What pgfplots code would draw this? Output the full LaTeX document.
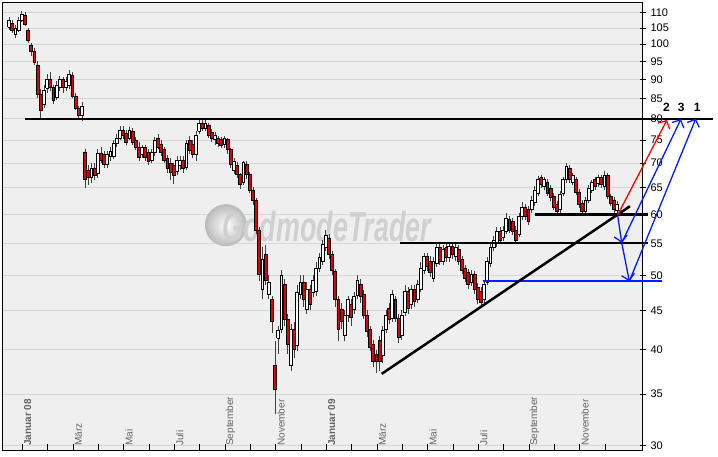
\documentclass[border=0pt]{standalone}
\usepackage{fontspec}
\setmainfont{Liberation Sans}
\usepackage{pgfplots}
\pgfplotsset{compat=1.18}
\usetikzlibrary{arrows.meta}

\definecolor{plotbg}{RGB}{239,239,239}
\definecolor{gridc}{RGB}{214,214,214}
\definecolor{candlered}{RGB}{225,0,0}
\definecolor{lblgray}{RGB}{100,100,100}
\definecolor{arrowblue}{RGB}{0,30,255}
\definecolor{arrowred}{RGB}{255,0,0}
\definecolor{wmark}{RGB}{208,208,208}

\pgfplotsset{
  wick/.style={draw=black!75, line width=0.6pt},
  body/.style={draw=black, line width=0.55pt, line join=miter},
}

% \candle{index}{open}{high}{low}{close}, one candle every 1/8 month
\newcommand\candle[5]{%
  \ifdim#5pt<#2pt \def\fc{candlered}\else\def\fc{white}\fi
  \pgfmathsetmacro\xa{#1-0.44}\pgfmathsetmacro\xb{#1+0.44}%
  \edef\doit{\noexpand\addplot[wick] coordinates {(#1,#4) (#1,#3)};%
    \noexpand\addplot[body, fill=\fc] coordinates {(\xa,#2) (\xb,#2) (\xb,#5) (\xa,#5) (\xa,#2)};}%
  \doit
}

\begin{document}
\begin{tikzpicture}
\useasboundingbox (-2pt,-7pt) rectangle (716pt,450pt);
\begin{axis}[
  scale only axis, width=640pt, height=448pt,
  xmin=-2.2, xmax=199.9,
  ymode=log, ymin=29.6, ymax=113.5,
  clip=false,
  axis background/.style={fill=plotbg},
  axis line style={black, line width=0.9pt},
  ytick={30,35,40,45,50,55,60,65,70,75,80,85,90,95,100,105,110},
  yticklabels={30,35,40,45,50,55,60,65,70,75,80,85,90,95,100,105,110},
  ytick pos=right, yticklabel pos=right,
  ymajorgrids, major grid style={gridc, line width=0.8pt},
  xtick={4.2,12.2,...,188.2},
  xticklabels={\textbf{Januar 08},,März,,Mai,,Juli,,September,,November,,\textbf{Januar 09},,März,,Mai,,Juli,,September,,November,},
  xtick pos=left,
  tick align=center, major tick length=6pt,
  ytick style={black, line width=0.8pt, xshift=1pt},
  xtick style={black, line width=0.8pt, yshift=3pt},
  yticklabel style={font=\fontsize{11}{12}\selectfont, text=black, xshift=2pt},
  xticklabel style={font=\fontsize{10}{12}\selectfont, text=lblgray, xshift=5.5pt, yshift=6pt, rotate=90, anchor=west, inner sep=1pt},
]
% watermark
\shade[inner color=white, outer color=gray!55] (axis cs:68.5,58.1) circle[radius=21pt];
\node[font=\fontsize{42}{42}\selectfont\bfseries\itshape, text=wmark, xscale=0.64] at (axis cs:100.4,57.8) {GodmodeTrader};

% candles: index, open, high, low, close
\candle{0}{105.3}{108.5}{104.5}{107.6}
\candle{1}{106.5}{107.5}{103.5}{104.4}
\candle{2}{102.9}{105.8}{102.0}{105.0}
\candle{3}{104.4}{108.5}{103.8}{107.6}
\candle{4}{107.6}{110.6}{107.0}{109.5}
\candle{5}{109.0}{110.0}{105.5}{106.0}
\candle{6}{104.4}{105.0}{100.5}{101.3}
\candle{7}{99.8}{100.5}{96.5}{97.8}
\candle{8}{97.8}{99.0}{94.0}{94.8}
\candle{9}{94.0}{95.0}{85.0}{86.0}
\candle{10}{86.0}{87.5}{80.0}{82.0}
\candle{11}{83.6}{88.5}{82.5}{87.2}
\candle{12}{87.7}{91.5}{86.5}{90.1}
\candle{13}{90.1}{92.0}{87.0}{87.8}
\candle{14}{87.8}{88.5}{83.5}{84.6}
\candle{15}{85.2}{89.5}{84.5}{88.5}
\candle{16}{88.0}{91.0}{87.0}{90.0}
\candle{17}{89.9}{90.5}{86.5}{87.9}
\candle{18}{87.9}{90.5}{87.0}{89.4}
\candle{19}{88.5}{92.5}{87.5}{91.5}
\candle{20}{91.2}{92.0}{85.0}{85.5}
\candle{21}{85.5}{86.5}{82.0}{82.6}
\candle{22}{82.6}{83.0}{80.0}{80.9}
\candle{23}{80.7}{84.0}{79.5}{83.1}
\candle{24}{72.4}{73.0}{65.0}{66.7}
\candle{25}{68.6}{69.5}{65.5}{67.0}
\candle{26}{67.0}{70.0}{66.0}{69.0}
\candle{27}{69.0}{70.0}{66.5}{67.4}
\candle{28}{67.8}{73.0}{67.0}{72.2}
\candle{29}{72.2}{73.5}{70.0}{70.7}
\candle{30}{71.8}{72.5}{69.0}{69.7}
\candle{31}{69.7}{72.5}{69.0}{71.8}
\candle{32}{71.4}{73.5}{70.5}{72.5}
\candle{33}{71.4}{75.0}{70.8}{74.2}
\candle{34}{74.2}{76.5}{73.5}{75.5}
\candle{35}{75.5}{78.3}{75.0}{77.2}
\candle{36}{77.2}{78.3}{75.2}{76.0}
\candle{37}{76.6}{77.3}{74.0}{74.6}
\candle{38}{75.5}{78.0}{75.0}{77.2}
\candle{39}{77.1}{77.8}{74.0}{74.6}
\candle{40}{75.0}{75.8}{72.8}{73.3}
\candle{41}{73.5}{74.5}{70.5}{71.2}
\candle{42}{71.8}{74.0}{71.0}{73.3}
\candle{43}{73.3}{74.0}{70.5}{71.2}
\candle{44}{72.3}{73.0}{69.5}{70.3}
\candle{45}{70.7}{73.0}{70.0}{72.3}
\candle{46}{72.3}{75.8}{71.5}{75.0}
\candle{47}{75.5}{76.5}{73.0}{73.5}
\candle{48}{74.0}{75.0}{71.5}{72.4}
\candle{49}{72.9}{73.5}{70.0}{70.7}
\candle{50}{71.0}{71.8}{68.0}{69.0}
\candle{51}{70.0}{71.0}{66.5}{68.0}
\candle{52}{69.6}{70.0}{65.8}{67.4}
\candle{53}{68.2}{71.5}{67.5}{70.7}
\candle{54}{69.6}{71.6}{68.5}{70.7}
\candle{55}{70.7}{71.5}{68.0}{69.0}
\candle{56}{69.2}{75.0}{68.5}{74.2}
\candle{57}{75.0}{76.0}{72.0}{72.8}
\candle{58}{74.0}{75.0}{71.0}{71.8}
\candle{59}{71.8}{77.0}{70.5}{76.2}
\candle{60}{77.0}{80.2}{76.5}{78.9}
\candle{61}{79.0}{80.0}{77.0}{77.8}
\candle{62}{77.8}{79.8}{77.0}{79.0}
\candle{63}{78.5}{79.0}{75.5}{76.2}
\candle{64}{76.8}{77.5}{74.5}{75.5}
\candle{65}{75.1}{76.8}{74.0}{76.2}
\candle{66}{75.5}{76.0}{73.5}{74.4}
\candle{67}{75.1}{75.8}{73.2}{73.8}
\candle{68}{74.0}{76.0}{73.2}{75.5}
\candle{69}{75.1}{75.5}{72.0}{72.9}
\candle{70}{72.9}{73.3}{69.0}{69.7}
\candle{71}{68.6}{71.0}{67.8}{70.3}
\candle{72}{69.6}{70.3}{67.0}{67.6}
\candle{73}{67.6}{68.0}{64.8}{65.6}
\candle{74}{66.0}{70.5}{65.5}{70.1}
\candle{75}{69.7}{70.5}{66.8}{67.6}
\candle{76}{67.6}{68.2}{64.0}{64.6}
\candle{77}{64.6}{65.2}{61.8}{62.7}
\candle{78}{62.7}{63.0}{56.5}{57.3}
\candle{79}{57.3}{57.8}{49.2}{50.1}
\candle{80}{47.9}{54.5}{46.5}{52.4}
\candle{81}{53.2}{54.8}{48.6}{49.3}
\candle{82}{47.2}{50.0}{46.5}{49.0}
\candle{83}{46.5}{47.0}{42.0}{43.6}
\candle{84}{38.2}{41.0}{33.0}{35.5}
\candle{85}{41.4}{43.0}{39.5}{42.4}
\candle{86}{42.5}{50.8}{42.0}{50.0}
\candle{87}{48.6}{49.5}{43.0}{43.8}
\candle{88}{43.8}{44.5}{39.5}{40.6}
\candle{89}{38.2}{43.2}{37.5}{42.5}
\candle{90}{42.5}{43.5}{39.0}{40.0}
\candle{91}{40.5}{48.5}{39.8}{47.5}
\candle{92}{47.2}{50.0}{46.5}{48.9}
\candle{93}{48.9}{50.0}{45.5}{46.5}
\candle{94}{45.1}{49.0}{44.5}{47.9}
\candle{95}{47.9}{48.5}{45.0}{45.8}
\candle{96}{47.5}{50.0}{46.8}{49.3}
\candle{97}{47.7}{52.0}{47.0}{51.1}
\candle{98}{51.1}{53.5}{50.5}{52.7}
\candle{99}{52.1}{55.5}{51.5}{54.8}
\candle{100}{54.3}{57.3}{53.8}{56.3}
\candle{101}{55.9}{56.5}{52.5}{53.2}
\candle{102}{53.2}{53.8}{50.0}{50.8}
\candle{103}{50.6}{51.0}{45.5}{46.5}
\candle{104}{46.5}{47.0}{41.0}{42.5}
\candle{105}{45.1}{46.0}{42.5}{43.6}
\candle{106}{41.8}{45.0}{41.0}{44.4}
\candle{107}{44.4}{47.0}{43.5}{46.5}
\candle{108}{45.8}{46.5}{43.0}{44.1}
\candle{109}{45.1}{47.5}{44.5}{46.9}
\candle{110}{47.1}{50.0}{46.5}{49.3}
\candle{111}{48.6}{49.5}{46.0}{46.9}
\candle{112}{47.2}{47.8}{43.8}{44.4}
\candle{113}{44.4}{45.0}{41.5}{42.3}
\candle{114}{42.5}{43.0}{39.8}{40.3}
\candle{115}{40.6}{41.2}{38.0}{38.6}
\candle{116}{39.4}{40.0}{37.3}{38.6}
\candle{117}{41.1}{41.7}{37.5}{38.6}
\candle{118}{39.3}{43.0}{38.4}{42.4}
\candle{119}{42.5}{45.0}{42.0}{44.4}
\candle{120}{45.3}{46.0}{43.2}{43.8}
\candle{121}{44.0}{47.8}{43.5}{47.2}
\candle{122}{46.5}{47.0}{43.5}{44.0}
\candle{123}{44.0}{44.5}{40.8}{41.5}
\candle{124}{41.8}{45.0}{41.2}{44.4}
\candle{125}{44.8}{48.5}{44.2}{47.6}
\candle{126}{47.6}{48.2}{44.5}{45.3}
\candle{127}{45.8}{48.5}{45.2}{47.9}
\candle{128}{47.9}{48.5}{45.5}{46.2}
\candle{129}{46.5}{49.3}{46.0}{48.6}
\candle{130}{47.9}{52.0}{47.5}{51.1}
\candle{131}{50.8}{53.5}{50.2}{52.9}
\candle{132}{52.9}{53.5}{50.6}{51.3}
\candle{133}{52.1}{53.0}{49.8}{50.4}
\candle{134}{49.6}{52.8}{49.0}{52.1}
\candle{135}{51.9}{55.0}{51.3}{54.3}
\candle{136}{54.3}{55.0}{51.5}{52.1}
\candle{137}{52.1}{54.8}{51.5}{54.0}
\candle{138}{54.3}{55.2}{52.0}{52.7}
\candle{139}{52.7}{55.3}{52.0}{54.5}
\candle{140}{54.5}{55.3}{52.5}{53.2}
\candle{141}{53.0}{55.0}{52.2}{54.3}
\candle{142}{54.0}{54.8}{51.5}{52.1}
\candle{143}{52.4}{53.0}{50.2}{50.8}
\candle{144}{51.1}{51.6}{49.0}{49.6}
\candle{145}{50.5}{51.0}{48.0}{48.6}
\candle{146}{49.0}{50.8}{48.4}{50.1}
\candle{147}{50.1}{50.6}{47.3}{47.9}
\candle{148}{48.2}{48.8}{45.8}{46.5}
\candle{149}{47.7}{48.2}{45.5}{46.1}
\candle{150}{46.5}{49.2}{46.0}{48.6}
\candle{151}{49.0}{52.8}{48.5}{52.1}
\candle{152}{51.9}{55.0}{51.3}{54.3}
\candle{153}{54.3}{56.3}{53.8}{55.6}
\candle{154}{55.1}{57.8}{54.5}{57.0}
\candle{155}{57.0}{57.8}{55.0}{55.6}
\candle{156}{56.0}{58.0}{55.4}{57.3}
\candle{157}{57.0}{60.2}{56.5}{59.4}
\candle{158}{59.1}{59.8}{56.8}{57.3}
\candle{159}{58.7}{59.3}{56.4}{57.0}
\candle{160}{57.3}{58.0}{55.0}{55.6}
\candle{161}{56.5}{60.3}{56.0}{59.6}
\candle{162}{59.6}{62.2}{59.0}{61.4}
\candle{163}{61.4}{62.0}{59.0}{59.6}
\candle{164}{60.9}{61.5}{58.2}{58.7}
\candle{165}{60.9}{63.5}{60.3}{62.7}
\candle{166}{62.2}{65.3}{61.6}{64.6}
\candle{167}{64.0}{67.3}{63.5}{66.6}
\candle{168}{67.0}{67.6}{65.0}{65.6}
\candle{169}{65.2}{67.2}{64.6}{66.6}
\candle{170}{66.0}{66.8}{63.5}{64.0}
\candle{171}{65.0}{65.6}{62.5}{63.1}
\candle{172}{63.3}{64.0}{60.8}{61.4}
\candle{173}{61.8}{62.4}{59.8}{60.5}
\candle{174}{60.9}{64.3}{60.3}{63.7}
\candle{175}{64.0}{67.2}{63.5}{66.6}
\candle{176}{66.6}{70.0}{66.0}{69.4}
\candle{177}{69.0}{69.6}{66.0}{66.6}
\candle{178}{66.0}{68.0}{65.5}{67.4}
\candle{179}{66.6}{67.2}{63.6}{64.2}
\candle{180}{64.2}{64.8}{61.2}{61.8}
\candle{181}{62.1}{62.6}{59.9}{60.5}
\candle{182}{60.5}{63.3}{60.0}{62.7}
\candle{183}{62.7}{65.6}{62.1}{65.0}
\candle{184}{64.6}{66.6}{64.0}{66.0}
\candle{185}{66.6}{67.2}{64.6}{65.2}
\candle{186}{65.8}{67.6}{65.2}{67.0}
\candle{187}{67.0}{67.6}{65.0}{65.6}
\candle{188}{65.2}{68.4}{64.6}{67.4}
\candle{189}{67.4}{68.0}{62.8}{63.3}
\candle{190}{63.3}{63.8}{61.5}{62.1}
\candle{191}{62.7}{63.2}{60.2}{60.9}
\candle{192}{60.7}{62.4}{60.2}{61.9}

% support / resistance lines
\addplot[black, line width=2pt] coordinates {(5.05,80) (222.3,80)};
\addplot[black, line width=2.5pt] coordinates {(166.1,60) (201.8,60)};
\addplot[black, line width=2pt] coordinates {(123.5,55.1) (201.8,55.1)};
\addplot[arrowblue, line width=2pt] coordinates {(149.7,49.1) (206.2,49.1)};
\addplot[black, line width=2.5pt] coordinates {(117.7,37.2) (196.1,61.5)};

% arrows
\addplot[arrowred, line width=1.3pt, -{Straight Barb[length=6pt,width=13pt]}] coordinates {(192.2,59.9) (207.8,79.7)};
\addplot[arrowblue, line width=1.3pt, -{Straight Barb[length=6pt,width=13pt]}] coordinates {(192.2,59.9) (193.5,55.1)};
\addplot[arrowblue, line width=1.3pt, -{Straight Barb[length=6pt,width=13pt]}] coordinates {(193.5,55.1) (212.2,79.9)};
\addplot[arrowblue, line width=1.3pt, -{Straight Barb[length=6pt,width=13pt]}] coordinates {(193.5,55.1) (195.9,49.1)};
\addplot[arrowblue, line width=1.3pt, -{Straight Barb[length=6pt,width=13pt]}] coordinates {(195.9,49.1) (216.9,80.0)};

\node[font=\fontsize{12}{12}\selectfont\bfseries] at (axis cs:207.6,82.7) {2};
\node[font=\fontsize{12}{12}\selectfont\bfseries] at (axis cs:212.3,82.7) {3};
\node[font=\fontsize{12}{12}\selectfont\bfseries] at (axis cs:217.3,82.7) {1};
\end{axis}
\end{tikzpicture}
\end{document}
